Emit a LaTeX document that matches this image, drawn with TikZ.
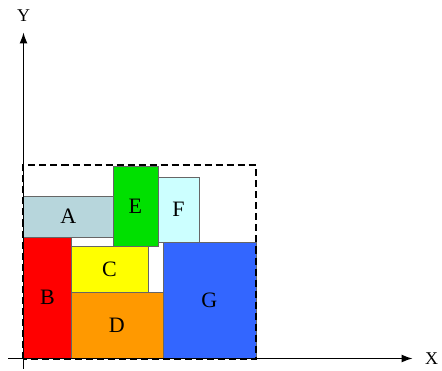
\documentclass[tikz,border=0pt]{standalone}
\usepackage{fontspec}
\setmainfont{Liberation Serif}
\usetikzlibrary{arrows.meta}
\tikzset{
	box/.style={rectangle, draw=gray!80!black, line width=0.8pt, anchor=south west, inner sep=0pt, font=\fontsize{22}{22}\selectfont},
	axis/.style={draw, -{Latex[length=11pt, width=8pt]}, line width=1.2pt},
	bound/.style={draw, line width=2pt, dash pattern=on 7pt off 4pt}
}
\definecolor{colA}{RGB}{183,214,220}
\definecolor{colB}{RGB}{255,0,0}
\definecolor{colC}{RGB}{255,255,0}
\definecolor{colD}{RGB}{255,153,0}
\definecolor{colE}{RGB}{0,224,0}
\definecolor{colF}{RGB}{204,255,255}
\definecolor{colG}{RGB}{51,102,255}

\begin{document}
\begin{tikzpicture}[x=1pt, y=1pt]

\useasboundingbox (-23.5,-11.5) rectangle (418.5,358.5);

\node[box, fill=colA, minimum width=89pt, minimum height=41pt] (a) at (0,121) {A};
\node[box, fill=colB, minimum width=47pt, minimum height=121pt] (b) at (0,0) {B};
\node[box, fill=colC, minimum width=77pt, minimum height=46pt] (c) at (47,66) {C};
\node[box, fill=colD, minimum width=92pt, minimum height=66pt] (d) at (47,0) {D};
\node[box, fill=colE, minimum width=45pt, minimum height=80pt] (e) at (89,112) {E};
\node[box, fill=colF, minimum width=41pt, minimum height=65pt] (f) at (134,116) {F};
\node[box, fill=colG, minimum width=93pt, minimum height=116pt] (g) at (139,0) {G};

\coordinate (o) at (0,0);
\coordinate (xs) at (-15,0);
\coordinate (xe) at (389,0);
\coordinate (ys) at (0,-10);
\coordinate (ye) at (0,326);

\node[font=\fontsize{18}{18}\selectfont] (xlabel) at (408,0) {X};
\node[font=\fontsize{18}{18}\selectfont] (ylabel) at (0,343) {Y};

\draw [axis] (xs) -- (xe);
\draw [axis] (ys) -- (ye);

\draw [bound] (o) rectangle (232,193);

\end{tikzpicture}
\end{document}
